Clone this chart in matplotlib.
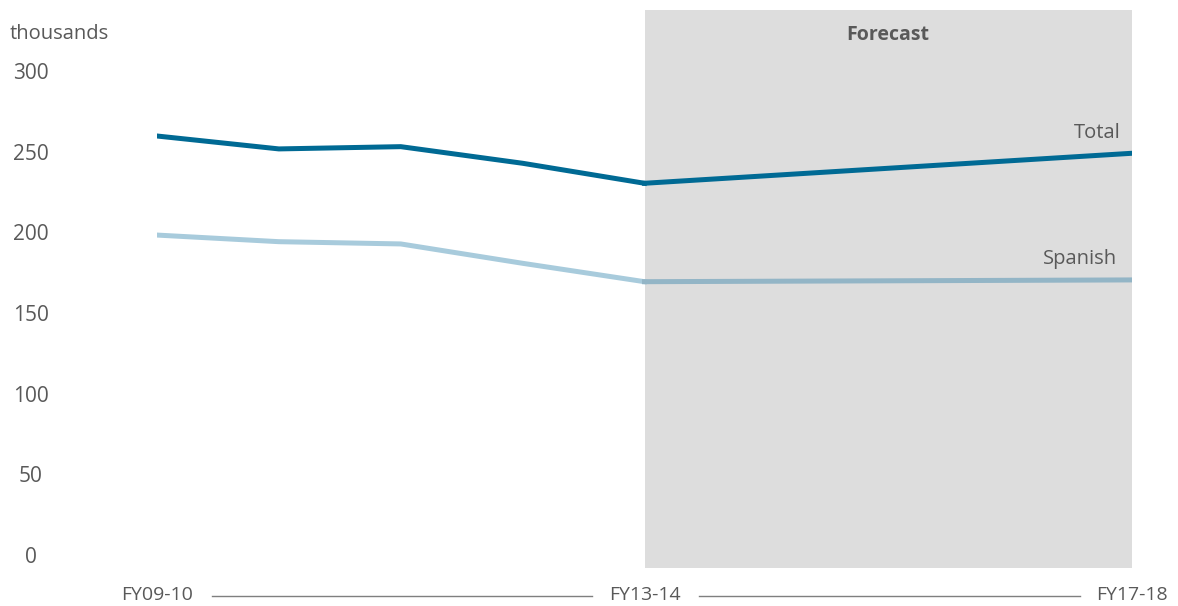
import matplotlib.pyplot as plt

plt.rcParams['font.family'] = ['Open Sans', 'DejaVu Sans']

# fiscal years on the axis, only three are labelled
years = ['FY09-10', 'FY10-11', 'FY11-12', 'FY12-13', 'FY13-14',
         'FY14-15', 'FY15-16', 'FY16-17', 'FY17-18']
shown_years = ['FY09-10', 'FY13-14', 'FY17-18']

# actuals, thousands
hist_idx = [0, 1, 2, 3, 4]
total_hist = [259.7, 251.7, 253.1, 242.8, 230.4]
spanish_hist = [198.3, 194.2, 192.8, 180.8, 169.4]

# forecast, thousands
fc_idx = [4, 8]
total_fc = [230.4, 249.0]
spanish_fc = [169.4, 170.5]

yticks = [0, 50, 100, 150, 200, 250, 300]

txt = '#595959'
dark = '#006a94'
light = '#a8cbdc'
light_fc = '#93b5c6'

fig = plt.figure(figsize=(11.78, 6.06), dpi=100)
ax = fig.add_axes([157 / 1178, 38 / 606, (1132 - 157) / 1178, 558 / 606])

ax.axvspan(fc_idx[0], fc_idx[-1], color='#dddddd', zorder=0, lw=0)

ax.plot(hist_idx, total_hist, color=dark, lw=3.6, solid_joinstyle='miter')
ax.plot(fc_idx, total_fc, color=dark, lw=3.6)
ax.plot(hist_idx, spanish_hist, color=light, lw=3.6, solid_joinstyle='miter')
ax.plot(fc_idx, spanish_fc, color=light_fc, lw=3.6)

ax.set_xlim(0, len(years) - 1)
ax.set_ylim(-8.06, 337.8)

ax.set_yticks(yticks)
ax.set_yticklabels([str(v) for v in yticks], fontsize=15, color=txt)
for lab in ax.get_yticklabels():
    lab.set_horizontalalignment('center')
ax.tick_params(axis='y', length=0, pad=91)
ax.set_xticks([])
for s in ax.spines.values():
    s.set_visible(False)

ax.text(8 - 0.09, total_fc[-1] + 6.5, 'Total', ha='right', va='bottom',
        fontsize=14.5, color=txt)
ax.text(8 - 0.12, spanish_fc[-1] + 6.5, 'Spanish', ha='right', va='bottom',
        fontsize=14.5, color=txt)
ax.text(6, 322, 'Forecast', ha='center', va='center', fontsize=14,
        fontweight='bold', color=txt)

fig.text(10 / 1178, 1 - 34 / 606, 'thousands', ha='left', va='center',
         fontsize=14.5, color=txt)

# bottom time axis: labels joined by thin rules
for name in shown_years:
    ax.annotate(name, xy=(years.index(name), 0), xycoords=('data', 'figure fraction'),
                xytext=(0, 11), textcoords='offset pixels', ha='center', va='center',
                fontsize=14, color=txt, annotation_clip=False)
for a, b in [(0, 4), (4, 8)]:
    ax.plot([a + 0.45, b - 0.43], [-25.5, -25.5], color='#7f7f7f', lw=1,
            clip_on=False)

fig.savefig('out.png', dpi=100)
